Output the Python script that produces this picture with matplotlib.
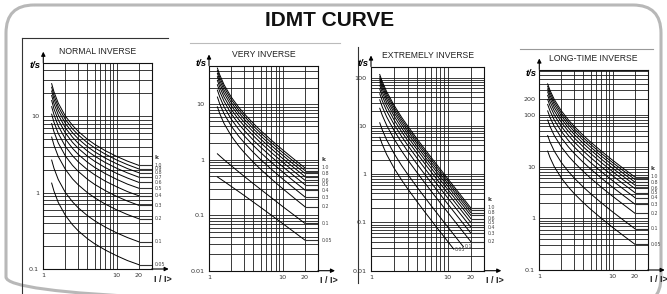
import matplotlib
matplotlib.use('Agg')
import matplotlib.pyplot as plt
from matplotlib.patches import FancyBboxPatch
from matplotlib.ticker import LogLocator, NullFormatter

x_read = [1.3, 1.4, 1.6, 2, 2.5, 3, 4, 5, 7, 10, 14, 20]
k_values = [1.0, 0.9, 0.8, 0.7, 0.6, 0.5, 0.4, 0.3, 0.2, 0.1, 0.05]

# t/s for each k (rows follow k_values)
t_normal = [
    [26.6, 20.7, 14.8, 10.0, 7.57, 6.30, 4.98, 4.28, 3.53, 2.97, 2.58, 2.27],
    [23.9, 18.6, 13.3, 9.03, 6.81, 5.67, 4.48, 3.85, 3.18, 2.67, 2.32, 2.04],
    [21.3, 16.6, 11.9, 8.02, 6.06, 5.04, 3.98, 3.42, 2.82, 2.38, 2.06, 1.82],
    [18.6, 14.5, 10.4, 7.02, 5.30, 4.41, 3.49, 3.00, 2.47, 2.08, 1.81, 1.59],
    [16.0, 12.4, 8.89, 6.02, 4.54, 3.78, 2.99, 2.57, 2.12, 1.78, 1.55, 1.36],
    [13.3, 10.4, 7.41, 5.02, 3.79, 3.15, 2.49, 2.14, 1.77, 1.49, 1.29, 1.14],
    [10.6, 8.29, 5.93, 4.01, 3.03, 2.52, 1.99, 1.71, 1.41, 1.19, 1.03, 0.908],
    [7.98, 6.22, 4.45, 3.01, 2.27, 1.89, 1.49, 1.28, 1.06, 0.891, 0.774, 0.681],
    [5.32, 4.15, 2.96, 2.01, 1.51, 1.26, 0.996, 0.856, 0.706, 0.594, 0.516, 0.454],
    [2.66, 2.07, 1.48, 1.00, 0.757, 0.630, 0.498, 0.428, 0.353, 0.297, 0.258, 0.227],
    [1.33, 1.04, 0.741, 0.502, 0.379, 0.315, 0.249, 0.214, 0.177, 0.149, 0.129, 0.114],
]
t_very = [
    [45.0, 33.8, 22.5, 13.5, 9.00, 6.75, 4.50, 3.38, 2.25, 1.50, 1.04, 0.711],
    [40.5, 30.4, 20.3, 12.2, 8.10, 6.08, 4.05, 3.04, 2.03, 1.35, 0.935, 0.639],
    [36.0, 27.0, 18.0, 10.8, 7.20, 5.40, 3.60, 2.70, 1.80, 1.20, 0.831, 0.568],
    [31.5, 23.6, 15.8, 9.45, 6.30, 4.73, 3.15, 2.36, 1.58, 1.05, 0.727, 0.497],
    [27.0, 20.3, 13.5, 8.10, 5.40, 4.05, 2.70, 2.03, 1.35, 0.900, 0.623, 0.426],
    [22.5, 16.9, 11.3, 6.75, 4.50, 3.38, 2.25, 1.69, 1.13, 0.750, 0.519, 0.355],
    [18.0, 13.5, 9.00, 5.40, 3.60, 2.70, 1.80, 1.35, 0.900, 0.600, 0.415, 0.284],
    [13.5, 10.1, 6.75, 4.05, 2.70, 2.03, 1.35, 1.01, 0.675, 0.450, 0.312, 0.213],
    [9.00, 6.75, 4.50, 2.70, 1.80, 1.35, 0.900, 0.675, 0.450, 0.300, 0.208, 0.142],
    [1.28, 1.17, 1.00, 0.781, 0.611, 0.502, 0.370, 0.293, 0.207, 0.143, 0.102, 0.0710],
    [0.490, 0.459, 0.407, 0.331, 0.269, 0.227, 0.172, 0.139, 0.100, 0.0705, 0.0506, 0.0355],
]
t_extreme = [
    [116, 83.3, 51.3, 26.7, 15.2, 10.0, 5.33, 3.33, 1.67, 0.808, 0.410, 0.200],
    [104, 75.0, 46.2, 24.0, 13.7, 9.00, 4.80, 3.00, 1.50, 0.727, 0.369, 0.180],
    [92.8, 66.7, 41.0, 21.3, 12.2, 8.00, 4.27, 2.67, 1.33, 0.646, 0.328, 0.160],
    [81.2, 58.3, 35.9, 18.7, 10.7, 7.00, 3.73, 2.33, 1.17, 0.566, 0.287, 0.140],
    [69.6, 50.0, 30.8, 16.0, 9.14, 6.00, 3.20, 2.00, 1.00, 0.485, 0.246, 0.120],
    [58.0, 41.7, 25.6, 13.3, 7.62, 5.00, 2.67, 1.67, 0.833, 0.404, 0.205, 0.100],
    [46.4, 33.3, 20.5, 10.7, 6.10, 4.00, 2.13, 1.33, 0.667, 0.323, 0.164, 0.0802],
    [34.8, 25.0, 15.4, 8.00, 4.57, 3.00, 1.60, 1.00, 0.500, 0.242, 0.123, 0.0602],
    [23.2, 16.7, 10.3, 5.33, 3.05, 2.00, 1.07, 0.667, 0.333, 0.162, 0.0821, 0.0401],
]
# the two lowest extremely inverse curves stop before I/I> = 20
x_ext_k01 = [1.3, 1.4, 1.6, 2, 2.5, 3, 4, 5, 7, 10, 14, 16]
t_ext_k01 = [11.6, 8.33, 5.13, 2.67, 1.52, 1.00, 0.533, 0.333, 0.167, 0.0808, 0.0410, 0.0314]
x_ext_k005 = [1.3, 1.4, 1.6, 2, 2.5, 3, 4, 5, 7, 10, 12]
t_ext_k005 = [5.80, 4.17, 2.56, 1.33, 0.762, 0.500, 0.267, 0.167, 0.0833, 0.0404, 0.0280]
t_long = [
    [400, 300, 200, 120, 80.0, 60.0, 40.0, 30.0, 20.0, 13.3, 9.23, 6.32],
    [360, 270, 180, 108, 72.0, 54.0, 36.0, 27.0, 18.0, 12.0, 8.31, 5.68],
    [320, 240, 160, 96.0, 64.0, 48.0, 32.0, 24.0, 16.0, 10.7, 7.38, 5.05],
    [280, 210, 140, 84.0, 56.0, 42.0, 28.0, 21.0, 14.0, 9.33, 6.46, 4.42],
    [240, 180, 120, 72.0, 48.0, 36.0, 24.0, 18.0, 12.0, 8.00, 5.54, 3.79],
    [200, 150, 100, 60.0, 40.0, 30.0, 20.0, 15.0, 10.0, 6.67, 4.62, 3.16],
    [160, 120, 80.0, 48.0, 32.0, 24.0, 16.0, 12.0, 8.00, 5.33, 3.69, 2.53],
    [120, 90.0, 60.0, 36.0, 24.0, 18.0, 12.0, 9.00, 6.00, 4.00, 2.77, 1.89],
    [80.0, 60.0, 40.0, 24.0, 16.0, 12.0, 8.00, 6.00, 4.00, 2.67, 1.85, 1.26],
    [40.0, 30.0, 20.0, 12.0, 8.00, 6.00, 4.00, 3.00, 2.00, 1.33, 0.923, 0.632],
    [20.0, 15.0, 10.0, 6.00, 4.00, 3.00, 2.00, 1.50, 1.00, 0.667, 0.462, 0.316],
]

labels_normal = ['1.0', '0.9', '0.8', '0.7', '0.6', '0.5', '0.4', '0.3', '0.2', '0.1', '0.05']
labels_very = ['1.0', '', '0.8', '', '0.6', '0.5', '0.4', '0.3', '0.2', '0.1', '0.05']
labels_extreme = ['1.0', '', '0.8', '', '0.6', '0.5', '0.4', '0.3', '0.2']
labels_long = ['1.0', '', '0.8', '', '0.6', '0.5', '0.4', '0.3', '0.2', '0.1', '0.05']

W, H = 667, 294
fig = plt.figure(figsize=(W / 100, H / 100), dpi=100)
fig.patch.set_facecolor('white')

# overlay in pixel units for frame, titles and arrows
ov = fig.add_axes([0, 0, 1, 1])
ov.set_xlim(0, W)
ov.set_ylim(H, 0)
ov.axis('off')
ov.add_patch(FancyBboxPatch((6, 5), 655, 300, boxstyle='round,pad=0,rounding_size=28',
                            fc='none', ec='#b8b8b8', lw=2.2, clip_on=False))
ov.text(330, 21, 'IDMT CURVE', ha='center', va='center', fontsize=15, fontweight='bold',
        family=['Liberation Sans Narrow', 'Liberation Sans'], color='#111111')
# scanned panel borders
ov.plot([22, 22], [38, 294], color='#333333', lw=0.8)
ov.plot([22, 168], [38, 38], color='#333333', lw=0.8)
ov.plot([190, 340], [43, 43], color='#bbbbbb', lw=0.8)
ov.plot([358, 358], [47, 283], color='#333333', lw=0.8)
ov.plot([520, 653], [49, 49], color='#999999', lw=0.8)

panels = [
    dict(title='NORMAL INVERSE', box=(43.3, 62.7, 151.7, 269.0), ylim=(0.1, 50),
         yt=[0.1, 1, 10], ytl=['0.1', '1', '10'], rows=t_normal, labels=labels_normal,
         ts_dy=3),
    dict(title='VERY INVERSE', box=(209.0, 65.5, 318.0, 270.7), ylim=(0.01, 50),
         yt=[0.01, 0.1, 1, 10], ytl=['0.01', '0.1', '1', '10'], rows=t_very, labels=labels_very,
         ts_dy=-2),
    dict(title='EXTREMELY INVERSE', box=(371.0, 66.5, 484.3, 270.7), ylim=(0.01, 170),
         yt=[0.01, 0.1, 1, 10, 100], ytl=['0.01', '0.1', '1', '10', '100'], rows=t_extreme,
         labels=labels_extreme, ts_dy=-3),
    dict(title='LONG-TIME INVERSE', box=(539.3, 69.5, 647.7, 270.0), ylim=(0.1, 760),
         yt=[0.1, 1, 10, 100, 200], ytl=['0.1', '1', '10', '100', '200'], rows=t_long,
         labels=labels_long, ts_dy=4),
]

for p in panels:
    l, t, r, b = p['box']
    ax = fig.add_axes([l / W, 1 - b / H, (r - l) / W, (b - t) / H])
    ax.set_facecolor('none')
    ax.set_xscale('log')
    ax.set_yscale('log')
    ax.xaxis.set_minor_locator(LogLocator(base=10, subs=range(1, 10), numticks=20))
    ax.yaxis.set_minor_locator(LogLocator(base=10, subs=range(1, 10), numticks=20))
    ax.xaxis.set_minor_formatter(NullFormatter())
    ax.yaxis.set_minor_formatter(NullFormatter())
    ax.set_xticks([1, 10, 20], ['1', '10', '20'])
    ax.set_yticks(p['yt'], p['ytl'])
    ax.set_xlim(1, 30)
    ax.set_ylim(*p['ylim'])
    ax.tick_params(which='both', length=0, labelsize=4.6, pad=3, labelcolor='#333333')
    ax.grid(which='both', color='#1a1a1a', lw=0.6)
    ax.set_axisbelow(True)
    for s in ax.spines.values():
        s.set_color('#111111')
        s.set_linewidth(0.8)

    for row, lab in zip(p['rows'], p['labels']):
        ax.plot(x_read, row, color='k', lw=0.7, solid_joinstyle='round')
        ax.plot([x_read[-1], 30], [row[-1], row[-1]], color='#333333', lw=0.8)
        if lab:
            ax.text(1.03, row[-1], lab, transform=ax.get_yaxis_transform(),
                    fontsize=3.4, color='#444444', va='center', ha='left', clip_on=False)
    ax.annotate('k', xy=(1.03, p['rows'][0][-1]), xycoords=ax.get_yaxis_transform(),
                xytext=(0, 6), textcoords='offset points', fontsize=4.2, fontweight='bold',
                color='#333333', va='center', ha='left', annotation_clip=False)

    if p['rows'] is t_extreme:
        ax.plot(x_ext_k01, t_ext_k01, color='k', lw=0.7)
        ax.plot(x_ext_k005, t_ext_k005, color='k', lw=0.7)
        ax.text(x_ext_k01[-1] * 1.04, t_ext_k01[-1], '0.1', fontsize=3.4, color='#444444',
                va='center', ha='left')
        ax.text(x_ext_k005[-1] * 1.04, t_ext_k005[-1], '0.05', fontsize=3.4, color='#444444',
                va='center', ha='left')

    # titles, axis arrows and labels
    ov.text((l + r) / 2, t - 11, p['title'], ha='center', va='center', fontsize=6.2,
            family='Liberation Sans', color='#222222')
    ov.annotate('', xy=(l, t - 11), xytext=(l, t),
                arrowprops=dict(arrowstyle='-|>', color='k', lw=0.8, mutation_scale=6,
                                shrinkA=0, shrinkB=0))
    ov.annotate('', xy=(r + 17, b), xytext=(r, b),
                arrowprops=dict(arrowstyle='-|>', color='k', lw=0.8, mutation_scale=6,
                                shrinkA=0, shrinkB=0))
    ov.text(l - 8, t + p['ts_dy'], 't/s', ha='center', va='center', fontsize=6.8,
            fontweight='bold', fontstyle='italic', family='Liberation Sans')
    ov.text(r + 11, b + 10, 'I / I>', ha='center', va='center', fontsize=6.5,
            fontweight='bold', family='Liberation Sans', color='#222222')

fig.savefig('out.png', dpi=100)
